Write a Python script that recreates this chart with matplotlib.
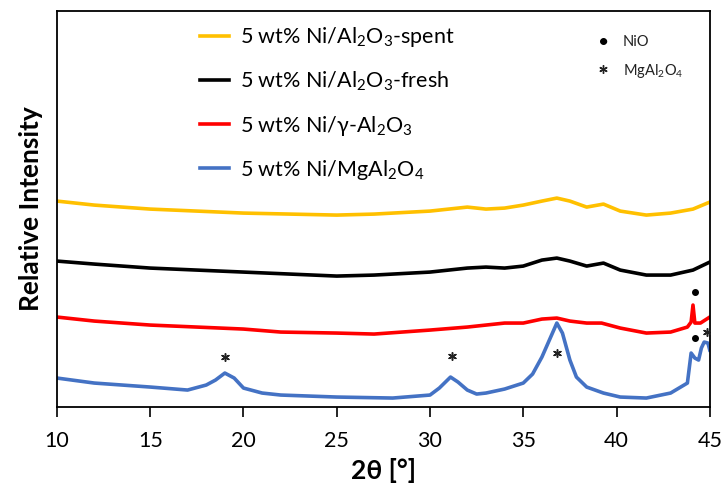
import matplotlib
matplotlib.use("Agg")
import matplotlib.pyplot as plt

plt.rcParams['font.family'] = ['Lato', 'DejaVu Sans']
plt.rcParams['mathtext.default'] = 'regular'

# 2theta positions and relative intensities (arbitrary units)
x_spent = [10, 12, 15, 20, 25, 27, 30, 32, 33, 34, 35, 36, 36.8, 37.5, 38.4, 39.3,
           40.2, 41.6, 42.9, 44.1, 45]
y_spent = [206, 202, 198, 194, 192, 193, 196, 200, 198, 199, 202, 206, 209, 206, 200, 203,
           196, 192, 194, 198, 205]

x_fresh = [10, 12, 15, 20, 25, 27, 30, 32, 33, 34, 35, 36, 36.8, 37.5, 38.4, 39.3,
           40.2, 41.6, 42.9, 44.1, 45]
y_fresh = [146, 143, 139, 135, 131, 132, 135, 139, 140, 139, 141, 147, 149, 146, 141, 144,
           137, 132, 132, 137, 145]

x_gamma = [10, 12, 15, 20, 22, 25, 27, 30, 32, 34, 35, 36, 36.8, 37.5, 38.4, 39.2,
           40.2, 41.6, 42.9, 43.8, 44.0, 44.1, 44.2, 44.5, 45]
y_gamma = [90, 86, 82, 78, 75, 74, 73, 77, 80, 84, 84, 88, 89, 86, 84, 84,
           79, 74, 75, 80, 85, 102, 84, 84, 90]

x_mgal = [10, 12, 15, 17, 18, 18.5, 19, 19.5, 20, 21, 22, 25, 28, 30, 30.5, 31.1, 31.5,
          32, 32.5, 33, 34, 35, 35.5, 36, 36.4, 36.8, 37.1, 37.5, 37.85, 38.4, 39.3,
          40.2, 41.6, 42.9, 43.8, 44.0, 44.2, 44.4, 44.55, 44.7, 44.9, 45]
y_mgal = [29, 24, 20, 17, 22, 27, 34, 29, 19, 14, 12, 10, 9, 12, 19, 30, 25,
          17, 13, 14, 18, 24, 33, 50, 67, 84, 74, 47, 30, 20, 14,
          10, 9, 14, 24, 54, 49, 47, 59, 65, 64, 57]

series_labels = ['5 wt% Ni/Al$_2$O$_3$-spent', '5 wt% Ni/Al$_2$O$_3$-fresh',
                 '5 wt% Ni/γ-Al$_2$O$_3$', '5 wt% Ni/MgAl$_2$O$_4$']
series_colors = ['#FFC000', '#000000', '#FF0000', '#4472C4']

# phase markers
nio_x = [44.2, 44.2]
nio_y = [115, 69]
spinel_x = [19.0, 31.2, 36.8, 44.85]
spinel_y = [50, 51, 54, 75]

asterisk = (6, 2, 0)

fig = plt.figure(figsize=(7.25, 4.84), dpi=100)
ax = fig.add_axes([0.0786, 0.159, 0.9004, 0.818])

xs = [x_spent, x_fresh, x_gamma, x_mgal]
ys = [y_spent, y_fresh, y_gamma, y_mgal]
for xv, yv, lab, col in zip(xs, ys, series_labels, series_colors):
    ax.plot(xv, yv, color=col, lw=2.6, label=lab)

ax.scatter(nio_x, nio_y, s=16, color='black', zorder=5)
ax.scatter(spinel_x, spinel_y, s=30, marker=asterisk, color='#222222', lw=1.1, zorder=5)

ax.set_xlim(10, 45)
ax.set_ylim(0, 396)
ax.set_xticks([10, 15, 20, 25, 30, 35, 40, 45])
ax.set_yticks([])
ax.tick_params(axis='x', direction='out', length=7, width=1.2, labelsize=15.5, pad=10)
for sp in ax.spines.values():
    sp.set_linewidth(1.3)

ax.set_xlabel('2θ [°]', fontsize=19, fontweight='bold', labelpad=5)
ax.set_ylabel('Relative Intensity', fontsize=19, fontweight='bold', labelpad=10)

leg = ax.legend(loc='upper left', bbox_to_anchor=(0.19, 1.013), frameon=False,
                fontsize=15.5, handlelength=1.35, handletextpad=0.5, labelspacing=0.95)

# small key for the phase symbols
fig.text(0.832, 0.913, '•', fontsize=14, ha='center', va='center')
fig.text(0.859, 0.913, 'NiO', fontsize=10.5, ha='left', va='center', color='#222222')
fig.add_artist(plt.Line2D([0.832], [0.857], marker=asterisk, markersize=6,
                          mew=1.0, color='#222222', transform=fig.transFigure))
fig.text(0.859, 0.853, 'MgAl$_2$O$_4$', fontsize=10.5, ha='left', va='center', color='#222222')

fig.savefig('out.png', dpi=100)
